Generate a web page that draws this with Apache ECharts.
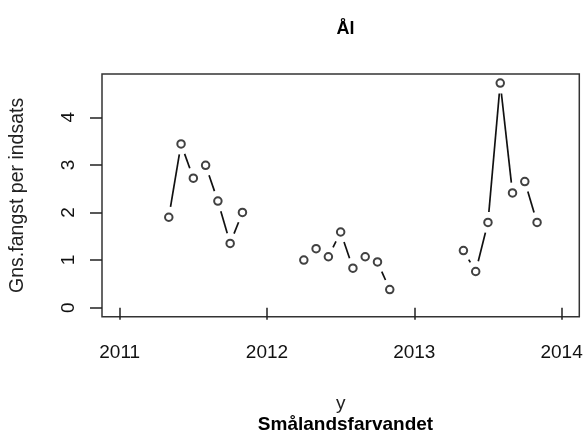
<!DOCTYPE html>
<html>
<head>
<meta charset="utf-8">
<script src="https://cdn.jsdelivr.net/npm/echarts@6/dist/echarts.min.js"></script>
<style>
  html, body { margin: 0; padding: 0; background: #ffffff; }
  #chart { width: 588px; height: 440px; }
</style>
</head>
<body>
<div id="chart"></div>
<script>
// Monthly mean catch per effort for eel (Ål), Smålandsfarvandet
const months2011 = [5, 6, 7, 8, 9, 10, 11];
const catch2011  = [1.90, 3.44, 2.72, 2.99, 2.24, 1.35, 2.00];
const months2012 = [4, 5, 6, 7, 8, 9, 10, 11];
const catch2012  = [1.00, 1.24, 1.07, 1.59, 0.83, 1.07, 0.96, 0.38];
const months2013 = [5, 6, 7, 8, 9, 10, 11];
const catch2013  = [1.20, 0.76, 1.79, 4.72, 2.41, 2.65, 1.79];

const xTicks = [2011, 2012, 2013, 2014];
const yTicks = [0, 1, 2, 3, 4];

const FONT = '"Liberation Sans", Arial, sans-serif';

// one group of points per year, placed at year + (month-1)/12
const groups = [
  { year: 2011, months: months2011, values: catch2011 },
  { year: 2012, months: months2012, values: catch2012 },
  { year: 2013, months: months2013, values: catch2013 }
].map(g => g.months.map((m, i) => [g.year + (m - 1) / 12, g.values[i]]));

const points = [].concat(...groups);

// segments join consecutive months within the same year
const segments = [];
groups.forEach(g => {
  for (let i = 0; i < g.length - 1; i++) {
    segments.push([g[i][0], g[i][1], g[i + 1][0], g[i + 1][1]]);
  }
});

const GAP = 10.5; // space left open around each point marker

const chart = echarts.init(document.getElementById('chart'), null, { renderer: 'canvas' });

chart.setOption({
  animation: false,
  backgroundColor: '#ffffff',
  title: [
    {
      text: 'Ål',
      left: 340.5,
      top: 15,
      textAlign: 'center',
      textStyle: { fontFamily: FONT, fontSize: 18, fontWeight: 'bold', color: '#000' }
    },
    {
      text: 'Smålandsfarvandet',
      left: 340.5,
      top: 410,
      textAlign: 'center',
      textStyle: { fontFamily: FONT, fontSize: 19, fontWeight: 'bold', color: '#000' }
    }
  ],
  grid: {
    left: 101.7,
    right: 8.7,
    top: 74,
    bottom: 123.3,
    show: true,
    borderColor: '#333',
    borderWidth: 1.5,
    backgroundColor: 'transparent'
  },
  xAxis: {
    type: 'value',
    min: 2010.88,
    max: 2014.12,
    name: 'y',
    nameLocation: 'middle',
    nameGap: 78,
    nameTextStyle: { fontFamily: FONT, fontSize: 19, color: '#222' },
    axisLine: { show: false },
    axisTick: {
      show: true,
      inside: false,
      length: 12,
      customValues: xTicks,
      lineStyle: { color: '#222', width: 1.5 }
    },
    axisLabel: {
      show: true,
      customValues: xTicks,
      margin: 27,
      fontFamily: FONT,
      fontSize: 19,
      color: '#111',
      formatter: v => String(v)
    },
    splitLine: { show: false }
  },
  yAxis: {
    type: 'value',
    min: -0.19,
    max: 4.91,
    name: 'Gns.fangst per indsats',
    nameLocation: 'middle',
    nameRotate: 90,
    nameGap: 74,
    nameTextStyle: { fontFamily: FONT, fontSize: 19.5, color: '#222' },
    axisLine: { show: false },
    axisTick: {
      show: true,
      inside: false,
      length: 12,
      customValues: yTicks,
      lineStyle: { color: '#222', width: 1.5 }
    },
    axisLabel: {
      show: true,
      customValues: yTicks,
      rotate: 90,
      margin: 24,
      fontFamily: FONT,
      fontSize: 19,
      color: '#111',
      formatter: v => String(v)
    },
    splitLine: { show: false }
  },
  series: [
    {
      type: 'custom',
      coordinateSystem: 'cartesian2d',
      data: segments,
      encode: { x: [0, 2], y: [1, 3] },
      renderItem: function (params, api) {
        const p1 = api.coord([api.value(0), api.value(1)]);
        const p2 = api.coord([api.value(2), api.value(3)]);
        const dx = p2[0] - p1[0];
        const dy = p2[1] - p1[1];
        const d = Math.sqrt(dx * dx + dy * dy);
        if (d <= 2 * GAP) return null;
        const ux = dx / d, uy = dy / d;
        return {
          type: 'line',
          shape: {
            x1: p1[0] + ux * GAP, y1: p1[1] + uy * GAP,
            x2: p2[0] - ux * GAP, y2: p2[1] - uy * GAP
          },
          style: { stroke: '#111', lineWidth: 1.7 }
        };
      },
      silent: true,
      z: 2
    },
    {
      type: 'scatter',
      data: points,
      symbol: 'emptyCircle',
      symbolSize: 7.5,
      itemStyle: { color: '#111', borderWidth: 1.5 },
      silent: true,
      z: 3
    }
  ]
});
</script>
</body>
</html>
